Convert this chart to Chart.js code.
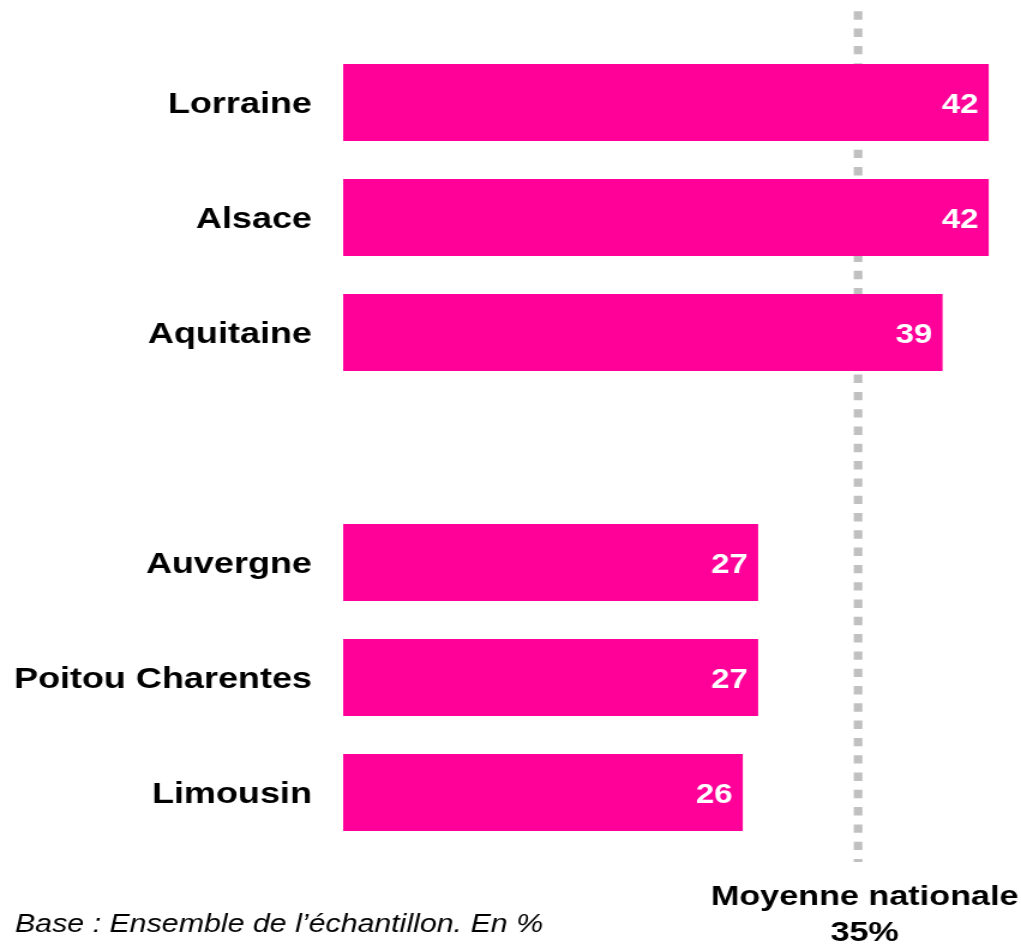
<!DOCTYPE html>
<html>
<head>
<meta charset="utf-8">
<script src="https://cdn.jsdelivr.net/npm/chart.js@4/dist/chart.umd.min.js"></script>
<style>
  html, body { margin: 0; padding: 0; background: #fff; overflow: hidden; }
</style>
</head>
<body>
<canvas id="c" width="851" height="948" style="display:block;width:1021px;height:948px;"></canvas>
<script>
// ---- data ----
const categories = ['Lorraine', 'Alsace', 'Aquitaine', '', 'Auvergne', 'Poitou Charentes', 'Limousin'];
const values = [42, 42, 39, null, 27, 27, 26];
const nationalAverage = 35;          // label value
const averageLinePosition = 33.5;    // where the dotted reference line sits in the picture
const averageTitle = 'Moyenne nationale';
const footnote = 'Base : Ensemble de l\u2019\u00e9chantillon. En %';

const FONT = '"Liberation Sans", Arial, Helvetica, sans-serif';
const PINK = '#FF0099';

const overlay = {
  id: 'overlay',
  beforeDatasetsDraw(chart) {
    const { ctx } = chart;
    const x = chart.scales.x.getPixelForValue(averageLinePosition);
    ctx.save();
    ctx.strokeStyle = '#C0C0C0';
    ctx.lineWidth = 7.2;
    ctx.setLineDash([8.4, 8.9]);
    ctx.beginPath();
    ctx.moveTo(x, 11.3);
    ctx.lineTo(x, 862);
    ctx.stroke();
    ctx.restore();
  },
  afterDatasetsDraw(chart) {
    const { ctx } = chart;
    const meta = chart.getDatasetMeta(0);
    ctx.save();
    ctx.fillStyle = '#FFFFFF';
    ctx.font = 'bold 27.5px ' + FONT;
    ctx.textAlign = 'right';
    ctx.textBaseline = 'middle';
    meta.data.forEach((bar, i) => {
      const v = values[i];
      if (v === null || v === undefined) return;
      ctx.fillText(String(v), bar.x - 8.5, bar.y + 3);
    });
    ctx.restore();

    const xa = chart.scales.x.getPixelForValue(averageLinePosition) + 5.5;
    ctx.save();
    ctx.fillStyle = '#000';
    ctx.font = 'bold 28.5px ' + FONT;
    ctx.textAlign = 'center';
    ctx.textBaseline = 'alphabetic';
    ctx.fillText(averageTitle, xa, 905);
    ctx.fillText(nationalAverage + '%', xa, 941);
    ctx.font = 'italic 25.3px ' + FONT;
    ctx.textAlign = 'left';
    ctx.fillText(footnote, 12.5, 932);
    ctx.restore();
  }
};

new Chart(document.getElementById('c'), {
  type: 'bar',
  data: {
    labels: categories,
    datasets: [{
      data: values,
      backgroundColor: PINK,
      borderWidth: 0,
      barPercentage: 0.67,
      categoryPercentage: 1
    }]
  },
  options: {
    indexAxis: 'y',
    responsive: false,
    animation: false,
    devicePixelRatio: 1,
    layout: { padding: { top: 45, bottom: 98, left: 0, right: 0 } },
    plugins: { legend: { display: false }, tooltip: { enabled: false } },
    scales: {
      x: {
        display: false,
        min: 0,
        max: 44.1
      },
      y: {
        grid: { display: false, drawTicks: false },
        border: { display: false },
        ticks: {
          color: '#000',
          padding: 26,
          labelOffset: 2,
          font: { family: FONT, size: 30, weight: 'bold' }
        },
        afterFit(scale) { scale.width = 286; }
      }
    }
  },
  plugins: [overlay]
});
</script>
</body>
</html>
